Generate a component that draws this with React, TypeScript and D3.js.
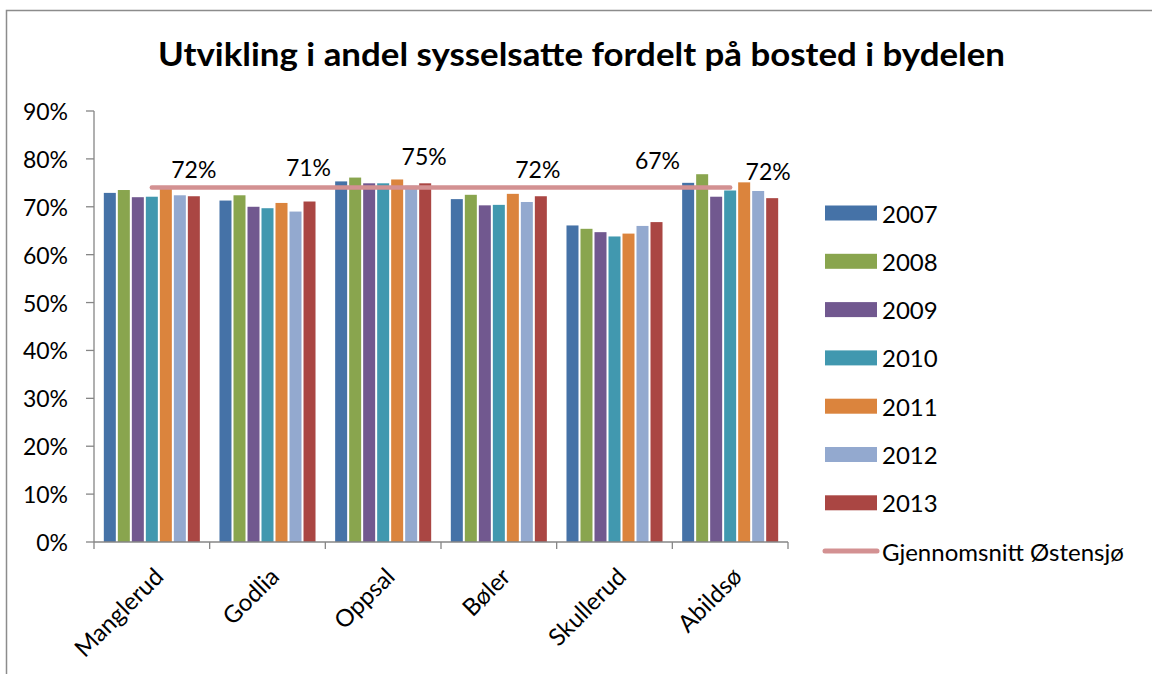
import React from "react";
import * as d3 from "d3";

const categories = ["Manglerud", "Godlia", "Oppsal", "Bøler", "Skullerud", "Abildsø"];
const years = ["2007", "2008", "2009", "2010", "2011", "2012", "2013"];
const colors = ["#4572A7", "#89A54E", "#71588F", "#4198AF", "#DB843D", "#93A9CF", "#AA4643"];

const v2007 = [72.9, 71.3, 75.3, 71.6, 66.1, 75.0];
const v2008 = [73.5, 72.4, 76.1, 72.5, 65.4, 76.8];
const v2009 = [72.0, 70.0, 74.9, 70.3, 64.7, 72.1];
const v2010 = [72.1, 69.7, 74.9, 70.4, 63.8, 73.4];
const v2011 = [73.8, 70.8, 75.7, 72.7, 64.4, 75.1];
const v2012 = [72.4, 69.0, 74.4, 71.0, 66.0, 73.3];
const v2013 = [72.2, 71.1, 74.9, 72.2, 66.8, 71.8];
const seriesValues = [v2007, v2008, v2009, v2010, v2011, v2012, v2013];

const averageName = "Gjennomsnitt Østensjø";
const averageValues = [74.0, 74.0, 74.0, 74.0, 74.0, 74.0];
const averageLabels = ["72%", "71%", "75%", "72%", "67%", "72%"];
const labelDx = [42, 41, 41, 39, 43, 38];
const labelDy = [-10, -12, -23, -10, -19, -8];

const yTicks = [0, 10, 20, 30, 40, 50, 60, 70, 80, 90];

const title = "Utvikling i andel sysselsatte fordelt på bosted i bydelen";

const FONT = "Lato, 'Open Sans', sans-serif";
const axisColor = "#868686";
const lineColor = "#D39192";

export default function App() {
  const W = 1152;
  const H = 674;
  const left = 94;
  const right = 788;
  const top = 111;
  const bottom = 542;

  const y = d3.scaleLinear().domain([0, 90]).range([bottom, top]);
  const x0 = d3.scaleBand<string>().domain(categories).range([left, right]).padding(0);
  const x1 = d3
    .scaleBand<string>()
    .domain(years)
    .range([0, x0.bandwidth()])
    .paddingInner(0)
    .paddingOuter(0.63);

  const lineGen = d3
    .line<number>()
    .x((_, i) => (x0(categories[i]) as number) + x0.bandwidth() / 2)
    .y((d) => y(d));

  const legendX = 825;
  const legendY0 = 213;
  const legendStep = 48.3;

  return (
    <svg
      width={W}
      height={H}
      style={{ position: "absolute", left: 0, top: 0, background: "#fff" }}
      fontFamily={FONT}
    >
      <rect x={0} y={0} width={W} height={H} fill="#fff" />
      <rect x={6.5} y={10.5} width={1300} height={800} fill="none" stroke="#8c8c8c" strokeWidth={1.5} />

      <text
        x={581.5}
        y={66}
        textAnchor="middle"
        fontWeight="bold"
        fontSize={33}
        textLength={847}
        lengthAdjust="spacingAndGlyphs"
        fill="#000"
      >
        {title}
      </text>

      {/* Y axis */}
      <line x1={left} x2={left} y1={top} y2={bottom} stroke={axisColor} strokeWidth={1.3} />
      {yTicks.map((t) => (
        <g key={t}>
          <line x1={left - 8} x2={left} y1={y(t)} y2={y(t)} stroke={axisColor} strokeWidth={1.3} />
          <text x={68} y={y(t)} textAnchor="end" dominantBaseline="central" fontSize={23} fill="#000">
            {`${t}%`}
          </text>
        </g>
      ))}

      {/* Bars */}
      {categories.map((c, ci) => (
        <g key={c} transform={`translate(${x0(c)},0)`}>
          {years.map((yr, si) => {
            const v = seriesValues[si][ci];
            return (
              <rect
                key={yr}
                x={(x1(yr) as number) + 1}
                y={y(v)}
                width={x1.bandwidth() - 2}
                height={y(0) - y(v)}
                fill={colors[si]}
              />
            );
          })}
        </g>
      ))}

      {/* X axis */}
      <line x1={left} x2={right} y1={bottom} y2={bottom} stroke={axisColor} strokeWidth={1.3} />
      {[...categories.map((c) => x0(c) as number), right].map((xv, i) => (
        <line key={i} x1={xv} x2={xv} y1={bottom} y2={bottom + 7} stroke={axisColor} strokeWidth={1.3} />
      ))}
      {categories.map((c) => {
        const cx = (x0(c) as number) + x0.bandwidth() / 2;
        return (
          <text
            key={c}
            transform={`translate(${cx + 1},${566}) rotate(-45)`}
            textAnchor="end"
            dy="0.72em"
            fontSize={24}
            fill="#000"
          >
            {c}
          </text>
        );
      })}

      {/* Average line */}
      <path
        d={lineGen(averageValues) || ""}
        fill="none"
        stroke={lineColor}
        strokeWidth={4.5}
        strokeLinecap="round"
      />
      {categories.map((c, i) => {
        const cx = (x0(c) as number) + x0.bandwidth() / 2;
        return (
          <text
            key={c}
            x={cx + labelDx[i]}
            y={y(averageValues[i]) + labelDy[i]}
            textAnchor="middle"
            fontSize={23}
            fill="#000"
          >
            {averageLabels[i]}
          </text>
        );
      })}

      {/* Legend */}
      {years.map((yr, i) => {
        const ly = legendY0 + i * legendStep;
        return (
          <g key={yr}>
            <rect x={legendX} y={ly - 7.5} width={52} height={15} fill={colors[i]} />
            <text x={882} y={ly} dominantBaseline="central" fontSize={24} fill="#000">
              {yr}
            </text>
          </g>
        );
      })}
      <line
        x1={legendX}
        x2={legendX + 52}
        y1={legendY0 + 7 * legendStep}
        y2={legendY0 + 7 * legendStep}
        stroke={lineColor}
        strokeWidth={5}
        strokeLinecap="round"
      />
      <text
        x={882}
        y={legendY0 + 7 * legendStep}
        dominantBaseline="central"
        fontSize={24}
        fill="#000"
      >
        {averageName}
      </text>
    </svg>
  );
}
